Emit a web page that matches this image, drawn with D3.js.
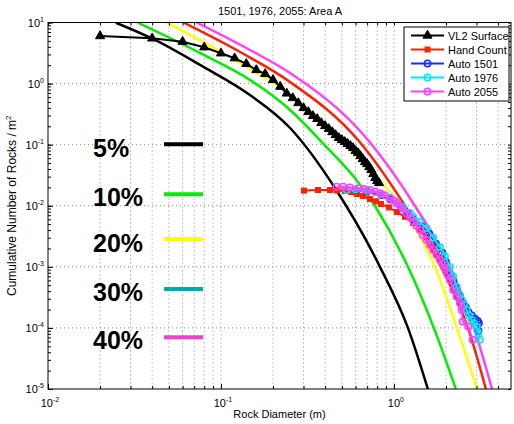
<!DOCTYPE html>
<html>
<head>
<meta charset="utf-8">
<script src="https://cdn.jsdelivr.net/npm/d3@7"></script>
<style>
body { margin: 0; background: #fff; }
svg text { font-family: "Liberation Sans", Arial, Helvetica, sans-serif; }
</style>
</head>
<body>
<script>
// model curves, one pair of arrays per rock abundance
var modelLabels = ["5%", "10%", "20%", "30%", "40%"];
var k05D = [0.0247, 0.0405, 0.0756, 0.147, 0.251, 0.456, 0.83, 1.205, 1.57];
var k05N = [9.92, 5.37, 2.02, 0.65, 0.1875, 0.0195, 0.001, 1e-4, 1e-5];
var k10D = [0.0331, 0.0756, 0.147, 0.251, 0.373, 0.776, 1.205, 1.70, 2.28];
var k10N = [9.92, 3.17, 1.15, 0.37, 0.119, 0.01, 0.001, 1e-4, 1e-5];
var k20D = [0.0487, 0.1127, 0.251, 0.521, 1.083, 1.726, 2.31, 3.02];
var k20N = [9.92, 2.72, 0.65, 0.0989, 0.01, 0.001, 1e-4, 1e-5];
var k30D = [0.0611, 0.129, 0.251, 0.62, 1.158, 1.87, 2.68, 3.40];
var k30N = [9.92, 3.29, 1.06, 0.119, 0.01, 0.001, 1e-4, 1e-5];
var k40D = [0.0727, 0.147, 0.251, 0.708, 1.32, 2.107, 2.90, 3.69];
var k40N = [9.92, 3.55, 1.49, 0.119, 0.01, 0.001, 1e-4, 1e-5];

// measured series
var vl2D = [0.02, 0.04, 0.06, 0.08, 0.10, 0.12, 0.14, 0.16, 0.18, 0.20, 0.22, 0.24,
  0.26, 0.28, 0.30, 0.32, 0.34, 0.36, 0.38, 0.40, 0.42, 0.44, 0.46, 0.48, 0.50,
  0.52, 0.54, 0.56, 0.58, 0.60, 0.62, 0.64, 0.66, 0.68, 0.70, 0.72, 0.74, 0.76,
  0.78, 0.80, 0.82];
var vl2N = [6.0, 5.5, 4.85, 3.93, 3.13, 2.6, 2.1, 1.67, 1.44, 1.15, 0.89, 0.69,
  0.581, 0.481, 0.399, 0.343, 0.295, 0.264, 0.227, 0.202, 0.181, 0.161, 0.144, 0.129, 0.119,
  0.111, 0.103, 0.0952, 0.0883, 0.0788, 0.0731, 0.0653, 0.0583, 0.0521, 0.0483, 0.0432, 0.0385, 0.0332,
  0.0285, 0.0255, 0.0236];
var handD = [0.302, 0.364, 0.427, 0.468, 0.521, 0.564, 0.611, 0.662, 0.726, 0.787, 0.841, 0.935,
  1.04, 1.158, 1.29, 1.413, 1.55, 1.703, 1.85, 2.02, 2.19, 2.41, 2.64, 2.79];
var handN = [0.0177, 0.0181, 0.0181, 0.0178, 0.0175, 0.0168, 0.0156, 0.0145, 0.0129, 0.0118, 0.0107, 0.0094,
  0.0079, 0.0066, 0.00524, 0.0041, 0.00309, 0.0022, 0.00145, 8.9e-4, 4.7e-4, 2.56e-4, 1.97e-4, 1.46e-4];
var a1501D = [0.60, 0.70, 0.85, 0.95, 1.1, 1.2, 1.293, 1.45, 1.6, 1.75, 1.9, 2.0, 2.107, 2.2, 2.3, 2.4,
  2.5, 2.6, 2.7, 2.82, 2.95, 3.05, 3.10, 3.08];
var a1501N = [0.018, 0.0172, 0.015, 0.0128, 0.0095, 0.0076, 0.006, 0.0046, 0.0035, 0.0024, 0.0017, 0.0012,
  7.5e-4, 5.8e-4, 4.5e-4, 3.4e-4, 2.6e-4, 2.2e-4, 1.8e-4, 1.6e-4, 1.4e-4, 1.3e-4, 1.2e-4, 9.0e-5];
var a1976D = [0.533, 0.60, 0.70, 0.777, 0.85, 0.948, 1.04, 1.13, 1.237, 1.293, 1.40, 1.545, 1.687,
  1.845, 1.971, 2.107, 2.20, 2.304, 2.40, 2.462, 2.55, 2.632, 2.72, 2.812, 2.90, 3.006, 3.08, 3.14];
var a1976N = [0.0181, 0.0185, 0.0178, 0.0168, 0.0155, 0.0135, 0.0115, 0.0095, 0.0076, 0.0066, 0.0055, 0.0043, 0.003,
  0.0021, 0.0015, 0.001, 7.0e-4, 4.74e-4, 3.5e-4, 2.87e-4, 2.4e-4, 1.97e-4, 1.6e-4, 1.35e-4, 1.2e-4, 1.05e-4, 8.0e-5, 6.4e-5];
var a2055D = [0.467, 0.509, 0.557, 0.622, 0.671, 0.726, 0.777, 0.83, 0.887, 0.948, 1.0, 1.036, 1.083,
  1.127, 1.184, 1.237, 1.293, 1.349, 1.413, 1.471, 1.545, 1.615, 1.687, 1.761, 1.845, 1.907, 1.971,
  2.038, 2.107, 2.202, 2.304, 2.407, 2.462, 2.495, 2.689, 2.85];
var a2055N = [0.0205, 0.0205, 0.0199, 0.0193, 0.0188, 0.0181, 0.0171, 0.016, 0.0148, 0.0133, 0.0122, 0.011, 0.0099,
  0.0089, 0.0075, 0.0064, 0.0055, 0.0047, 0.004, 0.0033, 0.00275, 0.00228, 0.00189, 0.00157, 0.0013, 0.00112, 9.5e-4,
  7.65e-4, 6.1e-4, 4.19e-4, 3.25e-4, 2.54e-4, 1.97e-4, 1.27e-4, 1.05e-4, 6.4e-5];

var legendNames = ["VL2 Surface", "Hand Count", "Auto 1501", "Auto 1976", "Auto 2055"];
var xMajor = [0.01, 0.1, 1];
var yMajor = [1e-5, 1e-4, 1e-3, 1e-2, 1e-1, 1, 10];

var width = 514, height = 424;
var pl = 48, pr = 511, pt = 22.5, pb = 389;

var svg = d3.select("body").append("svg")
  .attr("width", width)
  .attr("height", height);

var x = d3.scaleLog().domain([0.01, 4.75]).range([pl, pr]);
var y = d3.scaleLog().domain([1e-5, 10]).range([pb, pt]);

// minor tick values
var xAll = [];
[0.01, 0.1, 1].forEach(function(dec) {
  for (var m = 1; m <= 9; m++) {
    var v = dec * m;
    if (v <= 4.75) xAll.push(v);
  }
});
var yAll = [];
yMajor.slice(0, 6).forEach(function(dec) {
  for (var m = 1; m <= 9; m++) yAll.push(dec * m);
});
yAll.push(10);

// grid
var grid = svg.append("g");
grid.selectAll("line.vx").data(xAll.filter(function(v) { return v > 0.01; }))
  .enter().append("line")
  .attr("x1", function(d) { return x(d); })
  .attr("x2", function(d) { return x(d); })
  .attr("y1", pt).attr("y2", pb)
  .attr("stroke", "#8a8a8a").attr("stroke-width", 1)
  .attr("stroke-dasharray", "1,3");
grid.selectAll("line.hy").data(yMajor.slice(1, 6))
  .enter().append("line")
  .attr("x1", pl).attr("x2", pr)
  .attr("y1", function(d) { return y(d); })
  .attr("y2", function(d) { return y(d); })
  .attr("stroke", "#8a8a8a").attr("stroke-width", 1)
  .attr("stroke-dasharray", "1,3");

svg.append("clipPath").attr("id", "plotclip")
  .append("rect").attr("x", pl).attr("y", pt)
  .attr("width", pr - pl).attr("height", pb - pt);

var plot = svg.append("g").attr("clip-path", "url(#plotclip)");

var zip = function(a, b) { return a.map(function(v, i) { return [v, b[i]]; }); };

var smooth = d3.line()
  .x(function(d) { return x(d[0]); })
  .y(function(d) { return y(d[1]); })
  .curve(d3.curveMonotoneX);
var straight = d3.line()
  .x(function(d) { return x(d[0]); })
  .y(function(d) { return y(d[1]); });

var models = [
  { d: zip(k05D, k05N), color: "#000000" },
  { d: zip(k10D, k10N), color: "#00ee00" },
  { d: zip(k20D, k20N), color: "#ffff00" },
  { d: zip(k30D, k30N), color: "#ff2000" },
  { d: zip(k40D, k40N), color: "#ff40ff" }
];
plot.selectAll("path.model").data(models).enter().append("path")
  .attr("d", function(m) { return smooth(m.d); })
  .attr("fill", "none")
  .attr("stroke", function(m) { return m.color; })
  .attr("stroke-width", 2.5);

// measured series
var series = [
  { d: zip(vl2D, vl2N), color: "#000000", marker: "tri" },
  { d: zip(handD, handN), color: "#ff2000", marker: "sq" },
  { d: zip(a1501D, a1501N), color: "#1030ff", marker: "circ" },
  { d: zip(a1976D, a1976N), color: "#00e8f0", marker: "circ" },
  { d: zip(a2055D, a2055N), color: "#ff40ff", marker: "circ" }
];

function drawMarker(g, type, color, cx, cy) {
  if (type === "tri") {
    g.append("path")
      .attr("d", d3.symbol().type(d3.symbolTriangle).size(36)())
      .attr("transform", "translate(" + cx + "," + cy + ")")
      .attr("fill", color).attr("stroke", color).attr("stroke-width", 1);
  } else if (type === "sq") {
    g.append("rect").attr("x", cx - 2.5).attr("y", cy - 2.5)
      .attr("width", 5).attr("height", 5)
      .attr("fill", color).attr("stroke", color);
  } else {
    g.append("circle").attr("cx", cx).attr("cy", cy).attr("r", 3.2)
      .attr("fill", "none").attr("stroke", color).attr("stroke-width", 1.5);
  }
}

series.forEach(function(s) {
  var g = plot.append("g");
  g.append("path").attr("d", straight(s.d))
    .attr("fill", "none").attr("stroke", s.color).attr("stroke-width", 2);
  s.d.forEach(function(p) { drawMarker(g, s.marker, s.color, x(p[0]), y(p[1])); });
});

// axes box and ticks (ticks point inward)
var axes = svg.append("g");
axes.append("g").attr("transform", "translate(0," + pb + ")")
  .call(d3.axisBottom(x).tickValues(xAll).tickSize(-3));
axes.append("g").attr("transform", "translate(0," + pb + ")")
  .call(d3.axisBottom(x).tickValues(xMajor).tickSize(-5));
axes.append("g").attr("transform", "translate(0," + pt + ")")
  .call(d3.axisTop(x).tickValues(xAll).tickSize(-3));
axes.append("g").attr("transform", "translate(" + pl + ",0)")
  .call(d3.axisLeft(y).tickValues(yAll).tickSize(-3));
axes.append("g").attr("transform", "translate(" + pl + ",0)")
  .call(d3.axisLeft(y).tickValues(yMajor).tickSize(-5));
axes.append("g").attr("transform", "translate(" + pr + ",0)")
  .call(d3.axisRight(y).tickValues(yAll).tickSize(-3));
axes.selectAll(".domain").remove();
axes.selectAll(".tick text").remove();
axes.selectAll("line").attr("stroke", "#000");
axes.append("rect").attr("x", pl).attr("y", pt)
  .attr("width", pr - pl).attr("height", pb - pt)
  .attr("fill", "none").attr("stroke", "#000").attr("stroke-width", 1);

// tick labels with superscript exponents
svg.selectAll("text.yl").data(yMajor).enter().append("text")
  .attr("x", 44).attr("y", function(d) { return y(d) + 4; })
  .attr("text-anchor", "end").attr("font-size", 11)
  .each(function(d) {
    var t = d3.select(this);
    t.append("tspan").text("10");
    t.append("tspan").attr("font-size", 7).attr("dy", -5).text(Math.round(Math.log10(d)));
  });
svg.selectAll("text.xl").data(xMajor).enter().append("text")
  .attr("x", function(d) { return x(d) + 2; }).attr("y", 407)
  .attr("text-anchor", "middle").attr("font-size", 11)
  .each(function(d) {
    var t = d3.select(this);
    t.append("tspan").text("10");
    t.append("tspan").attr("font-size", 7).attr("dy", -5).text(Math.round(Math.log10(d)));
  });

svg.append("text").attr("x", (pl + pr) / 2).attr("y", 418)
  .attr("text-anchor", "middle").attr("font-size", 11).text("Rock Diameter (m)");
var yl = svg.append("text")
  .attr("transform", "translate(16," + ((pt + pb) / 2) + ") rotate(-90)")
  .attr("text-anchor", "middle").attr("font-size", 12);
yl.append("tspan").text("Cumulative Number of Rocks / m");
yl.append("tspan").attr("font-size", 8).attr("dy", -5).text("2");

svg.append("text").attr("x", 280).attr("y", 15)
  .attr("text-anchor", "middle").attr("font-size", 11).text("1501, 1976, 2055: Area A");

// legend
var lg = svg.append("g");
lg.append("rect").attr("x", 404).attr("y", 27).attr("width", 105).attr("height", 74)
  .attr("fill", "#fff").attr("stroke", "#000").attr("stroke-width", 1);
series.forEach(function(s, i) {
  var ly = 35.5 + i * 14;
  lg.append("line").attr("x1", 411).attr("x2", 444).attr("y1", ly).attr("y2", ly)
    .attr("stroke", s.color).attr("stroke-width", 2);
  drawMarker(lg, s.marker, s.color, 427.5, ly);
  lg.append("text").attr("x", 448).attr("y", ly + 4).attr("font-size", 11).text(legendNames[i]);
});

// abundance labels and swatches
var swatchColors = ["#000000", "#00ee00", "#ffff00", "#00aaaa", "#f040d0"];
var labelBase = [157, 206, 252, 301, 349];
var swatchY = [144.3, 194.3, 239, 289, 337.3];
modelLabels.forEach(function(lab, i) {
  svg.append("text").attr("x", 93).attr("y", labelBase[i])
    .attr("font-size", 25).attr("font-weight", "bold").text(lab);
  svg.append("line").attr("x1", 164).attr("x2", 203)
    .attr("y1", swatchY[i]).attr("y2", swatchY[i])
    .attr("stroke", swatchColors[i]).attr("stroke-width", 4);
});
</script>
</body>
</html>
